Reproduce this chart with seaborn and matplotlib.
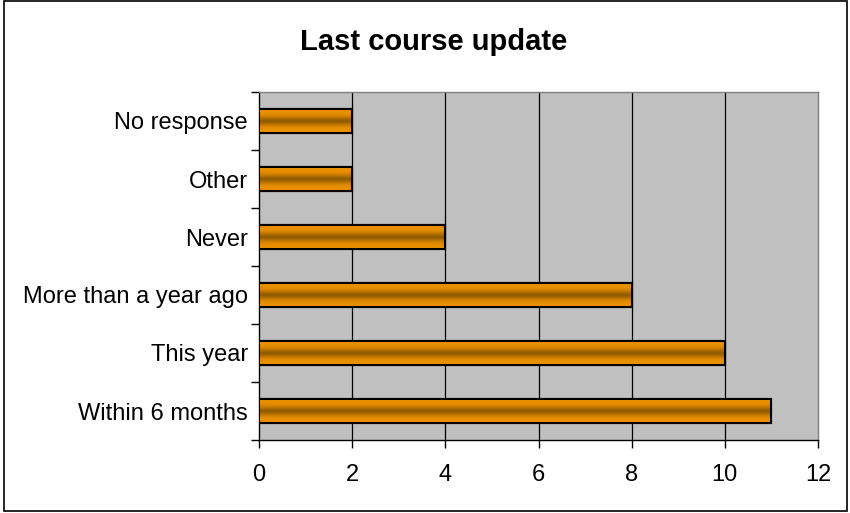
import numpy as np
import pandas as pd
import seaborn as sns
import matplotlib.pyplot as plt
from matplotlib.colors import LinearSegmentedColormap
from matplotlib.patches import Rectangle

categories = ["No response", "Other", "Never", "More than a year ago", "This year", "Within 6 months"]
counts = [2, 2, 4, 8, 10, 11]
xticks = [0, 2, 4, 6, 8, 10, 12]

df = pd.DataFrame({"category": categories, "count": counts})

sns.set_style("white")
plt.rcParams["font.family"] = ["Liberation Sans", "DejaVu Sans"]
plt.rcParams["text.color"] = "black"
plt.rcParams["xtick.color"] = "black"
plt.rcParams["ytick.color"] = "black"

fig = plt.figure(figsize=(8.5, 5.13), dpi=100)
ax = fig.add_axes([259 / 850, 1 - 440 / 513, (818 - 259) / 850, (440 - 92) / 513])

sns.barplot(data=df, x="count", y="category", orient="h", color="#E08A00",
            width=0.41, edgecolor="black", linewidth=1.5, ax=ax, zorder=3)

# gradient fill: orange at edges, dark brown in the middle
cmap = LinearSegmentedColormap.from_list("bar", ["#F39600", "#E08A00", "#8A5800", "#E08A00", "#F39600"])
grad = np.linspace(0, 1, 256).reshape(-1, 1)
for p in ax.patches:
    x0, y0 = p.get_x(), p.get_y()
    w, h = p.get_width(), p.get_height()
    im = ax.imshow(grad, cmap=cmap, aspect="auto", extent=[x0, x0 + w, y0 + h, y0],
                   zorder=3.5, interpolation="bicubic")
    im.set_clip_path(p)
    ax.add_patch(Rectangle((x0, y0), w, h, fill=False, edgecolor="black", linewidth=1.5, zorder=4))

ax.set_facecolor("#C0C0C0")
ax.set_xlim(0, 12)
ax.set_ylim(len(categories) - 0.5, -0.5)
ax.set_xticks(xticks)
ax.set_xticklabels([str(t) for t in xticks])
for v in xticks[1:-1]:
    ax.axvline(v, color="black", linewidth=0.9, zorder=1)

ax.set_yticks(np.arange(len(categories)))
ax.set_yticklabels(categories)
ax.set_yticks(np.arange(-0.5, len(categories)), minor=True)
ax.tick_params(axis="y", which="major", length=0, pad=8, labelsize=17)
ax.tick_params(axis="y", which="minor", length=6, width=1, direction="out", left=True)
ax.tick_params(axis="x", length=6, width=1, direction="out", bottom=True, pad=11, labelsize=17)
ax.set_xlabel("")
ax.set_ylabel("")

for side in ["left", "bottom"]:
    ax.spines[side].set_color("black")
    ax.spines[side].set_linewidth(1)
for side in ["top", "right"]:
    ax.spines[side].set_color("#808080")
    ax.spines[side].set_linewidth(1)

fig.text(434 / 850, 1 - 42 / 513, "Last course update", ha="center", va="center",
         fontsize=21, fontweight="bold")

fig.add_artist(Rectangle((4 / 850, 2 / 513), 843 / 850, 510 / 513, transform=fig.transFigure,
                         fill=False, edgecolor="black", linewidth=1.2))

fig.savefig("out.png", dpi=100)
